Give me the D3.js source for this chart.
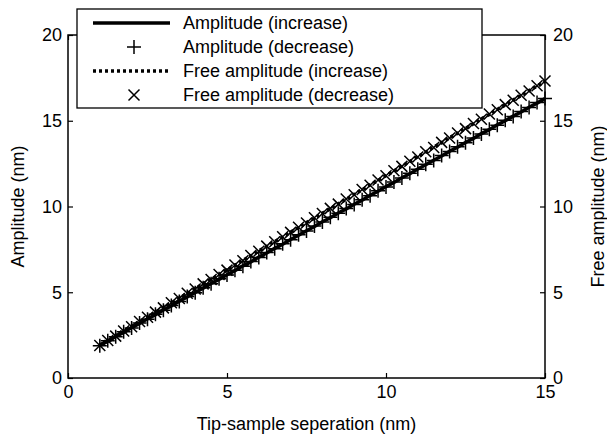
<!DOCTYPE html>
<html>
<head>
<meta charset="utf-8">
<script src="https://cdn.jsdelivr.net/npm/d3@7"></script>
<style>
  body { margin: 0; background: #fff; }
  text { font-family: "Liberation Sans", Arial, sans-serif; fill: #000; }
</style>
</head>
<body>
<div id="chart"></div>
<script>
var svgWidth = 607;
var svgHeight = 439;

// Tip-sample separation (nm)
var sep = [1.00, 1.25, 1.50, 1.75, 2.00, 2.25, 2.50, 2.75, 3.00, 3.25, 3.50, 3.75, 4.00, 4.25, 4.50,
  4.75, 5.00, 5.25, 5.50, 5.75, 6.00, 6.25, 6.50, 6.75, 7.00, 7.25, 7.50, 7.75, 8.00, 8.25,
  8.50, 8.75, 9.00, 9.25, 9.50, 9.75, 10.00, 10.25, 10.50, 10.75, 11.00, 11.25, 11.50, 11.75,
  12.00, 12.25, 12.50, 12.75, 13.00, 13.25, 13.50, 13.75, 14.00, 14.25, 14.50, 14.75, 15.00];

// Amplitude (nm)
var ampInc = [1.90, 2.15, 2.42, 2.66, 2.94, 3.18, 3.45, 3.69, 3.97, 4.20, 4.48, 4.72, 4.99, 5.23, 5.51,
  5.75, 6.02, 6.26, 6.54, 6.77, 7.05, 7.29, 7.56, 7.80, 8.08, 8.32, 8.59, 8.83, 9.11, 9.34,
  9.62, 9.86, 10.13, 10.37, 10.65, 10.89, 11.16, 11.40, 11.68, 11.91, 12.19, 12.43, 12.70, 12.94,
  13.22, 13.46, 13.73, 13.97, 14.25, 14.48, 14.76, 15.00, 15.27, 15.51, 15.79, 16.03, 16.29];
var ampDec = [1.88, 2.17, 2.40, 2.69, 2.92, 3.21, 3.43, 3.72, 3.95, 4.23, 4.46, 4.75, 4.97, 5.26, 5.49,
  5.78, 6.00, 6.29, 6.52, 6.80, 7.03, 7.32, 7.54, 7.83, 8.06, 8.35, 8.57, 8.86, 9.09, 9.37,
  9.60, 9.89, 10.11, 10.40, 10.63, 10.92, 11.14, 11.43, 11.66, 11.94, 12.17, 12.46, 12.68, 12.97,
  13.20, 13.49, 13.71, 14.00, 14.23, 14.51, 14.74, 15.03, 15.25, 15.54, 15.77, 16.06, 16.30];

// Free amplitude (nm)
var freeInc = [1.92, 2.18, 2.46, 2.72, 3.01, 3.27, 3.56, 3.82, 4.11, 4.37, 4.66, 4.92, 5.21, 5.47, 5.76,
  6.02, 6.31, 6.57, 6.86, 7.12, 7.41, 7.67, 7.96, 8.22, 8.51, 8.77, 9.06, 9.32, 9.61, 9.87,
  10.16, 10.42, 10.71, 10.97, 11.26, 11.52, 11.81, 12.07, 12.36, 12.62, 12.91, 13.17, 13.46, 13.72,
  14.01, 14.27, 14.56, 14.82, 15.11, 15.37, 15.66, 15.92, 16.21, 16.47, 16.76, 17.02, 17.30];
var freeDec = [1.89, 2.19, 2.44, 2.74, 2.99, 3.29, 3.54, 3.84, 4.09, 4.39, 4.64, 4.94, 5.19, 5.49, 5.74,
  6.04, 6.29, 6.59, 6.84, 7.14, 7.39, 7.69, 7.94, 8.24, 8.49, 8.79, 9.04, 9.34, 9.59, 9.89,
  10.14, 10.44, 10.69, 10.99, 11.24, 11.54, 11.79, 12.09, 12.34, 12.64, 12.89, 13.19, 13.44, 13.74,
  13.99, 14.29, 14.54, 14.84, 15.09, 15.39, 15.64, 15.94, 16.19, 16.49, 16.74, 17.04, 17.32];

var xTicks = [0, 5, 10, 15];
var yTicks = [0, 5, 10, 15, 20];

var legendLabels = ["Amplitude (increase)", "Amplitude (decrease)",
  "Free amplitude (increase)", "Free amplitude (decrease)"];

var margin = {top: 35, right: 62, bottom: 61, left: 68};
var plotW = svgWidth - margin.left - margin.right;
var plotH = svgHeight - margin.top - margin.bottom;

var svg = d3.select("#chart").append("svg")
  .attr("width", svgWidth)
  .attr("height", svgHeight);

var g = svg.append("g")
  .attr("transform", `translate(${margin.left}, ${margin.top})`);

var x = d3.scaleLinear().domain([0, 15]).range([0, plotW]);
var yL = d3.scaleLinear().domain([0, 20]).range([plotH, 0]);
var yR = d3.scaleLinear().domain([0, 20]).range([plotH, 0]);

function styleAxis(sel) {
  sel.select(".domain").remove();
  sel.selectAll(".tick line").attr("stroke", "#000").attr("stroke-width", 1.2);
  sel.selectAll(".tick text").style("font-size", "18px").attr("fill", "#000");
}

// axes, ticks pointing inward
g.append("g")
  .attr("transform", `translate(0, ${plotH})`)
  .call(d3.axisBottom(x).tickValues(xTicks).tickSize(-5).tickPadding(7))
  .call(styleAxis);
g.append("g")
  .call(d3.axisTop(x).tickValues(xTicks).tickSize(-5).tickFormat(""))
  .call(styleAxis);
g.append("g")
  .call(d3.axisLeft(yL).tickValues(yTicks).tickSize(-5).tickPadding(6))
  .call(styleAxis);
g.append("g")
  .attr("transform", `translate(${plotW}, 0)`)
  .call(d3.axisRight(yR).tickValues(yTicks).tickSize(-5).tickPadding(8))
  .call(styleAxis);

// frame
g.append("rect")
  .attr("width", plotW).attr("height", plotH)
  .attr("fill", "none").attr("stroke", "#000").attr("stroke-width", 1.5);

var line = d3.line().x((d, i) => x(sep[i])).y(d => yL(d));

// Free amplitude (decrease): x markers
g.selectAll(".xmark").data(freeDec).enter()
  .append("path")
  .attr("transform", (d, i) => `translate(${x(sep[i])}, ${yR(d)})`)
  .attr("d", "M-5.5,-5.5L5.5,5.5M-5.5,5.5L5.5,-5.5")
  .attr("stroke", "#000").attr("stroke-width", 1.5).attr("fill", "none");

// Amplitude (decrease): + markers
g.selectAll(".pmark").data(ampDec).enter()
  .append("path")
  .attr("transform", (d, i) => `translate(${x(sep[i])}, ${yL(d)})`)
  .attr("d", "M-7,0L7,0M0,-7L0,7")
  .attr("stroke", "#000").attr("stroke-width", 1.5).attr("fill", "none");

// Free amplitude (increase): dotted
g.append("path")
  .datum(freeInc)
  .attr("d", line)
  .attr("fill", "none").attr("stroke", "#000")
  .attr("stroke-width", 3.5).attr("stroke-dasharray", "3,3");

// Amplitude (increase): solid
g.append("path")
  .datum(ampInc)
  .attr("d", line)
  .attr("fill", "none").attr("stroke", "#000").attr("stroke-width", 3.5);

// axis titles
svg.append("text")
  .attr("x", margin.left + plotW / 2).attr("y", 430)
  .attr("text-anchor", "middle").style("font-size", "18px")
  .text("Tip-sample seperation (nm)");
svg.append("text")
  .attr("transform", `translate(24, ${margin.top + plotH / 2}) rotate(-90)`)
  .attr("text-anchor", "middle").style("font-size", "18px")
  .text("Amplitude (nm)");
svg.append("text")
  .attr("transform", `translate(604, ${margin.top + plotH / 2}) rotate(-90)`)
  .attr("text-anchor", "middle").style("font-size", "18px")
  .text("Free amplitude (nm)");

// legend
var legend = svg.append("g");
legend.append("rect")
  .attr("x", 77).attr("y", 9).attr("width", 405).attr("height", 99)
  .attr("fill", "#fff").attr("stroke", "#000").attr("stroke-width", 1.3);

var rowY = [23, 47, 71, 95];
legend.selectAll(".lt").data(legendLabels).enter()
  .append("text")
  .attr("x", 183).attr("y", (d, i) => rowY[i]).attr("dy", "0.35em")
  .style("font-size", "18px")
  .text(d => d);

legend.append("line")
  .attr("x1", 93).attr("x2", 170).attr("y1", rowY[0]).attr("y2", rowY[0])
  .attr("stroke", "#000").attr("stroke-width", 3.5);
legend.append("path")
  .attr("transform", `translate(134, ${rowY[1]})`)
  .attr("d", "M-7,0L7,0M0,-7L0,7")
  .attr("stroke", "#000").attr("stroke-width", 1.5);
legend.append("line")
  .attr("x1", 93).attr("x2", 170).attr("y1", rowY[2]).attr("y2", rowY[2])
  .attr("stroke", "#000").attr("stroke-width", 3.5).attr("stroke-dasharray", "3,3");
legend.append("path")
  .attr("transform", `translate(134, ${rowY[3]})`)
  .attr("d", "M-5.5,-5.5L5.5,5.5M-5.5,5.5L5.5,-5.5")
  .attr("stroke", "#000").attr("stroke-width", 1.5);
</script>
</body>
</html>
